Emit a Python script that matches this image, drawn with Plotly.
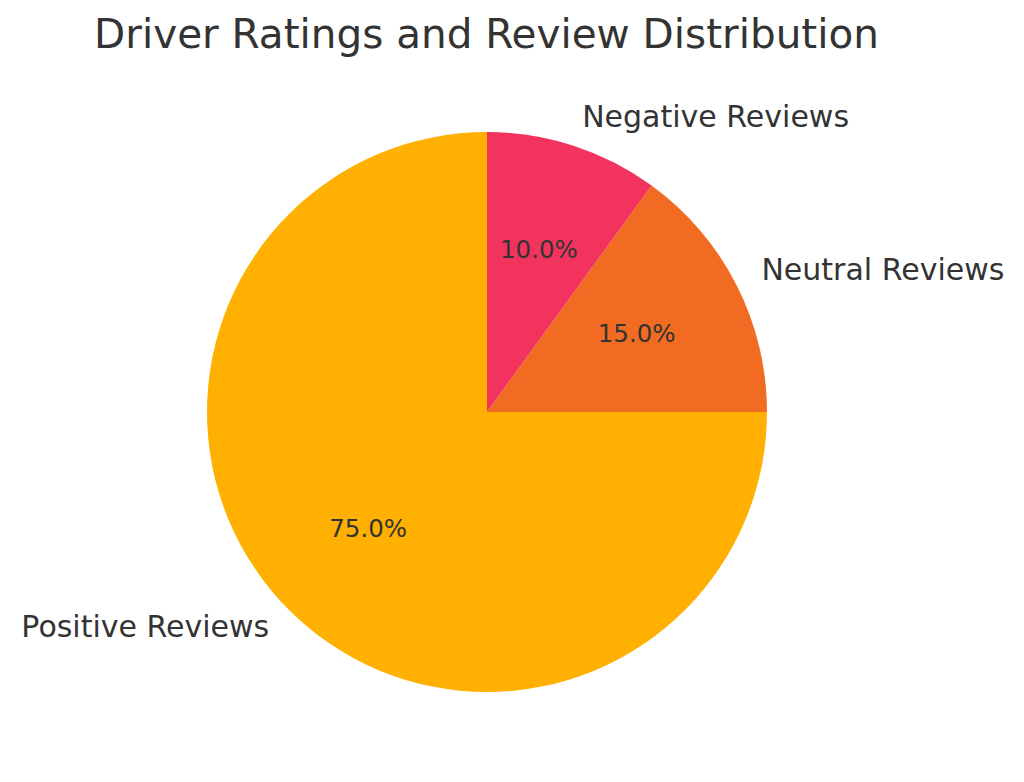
import math

import plotly.graph_objects as go

# review shares, drawn counter-clockwise from 12 o'clock
categories = ["Positive Reviews", "Neutral Reviews", "Negative Reviews"]
shares = [75, 15, 10]
colors = ["#FFB000", "#F26B22", "#F2335E"]

W, H = 1024, 782
label_r, pct_r = 1.1, 0.6
# the page body adds an 8px margin, so work in figure pixels;
# the polar area reaches out to the label ring so labels are not dropped
cx, cy = 479, 404
r = 280 * label_r
domain = dict(
    x=[(cx - r) / W, (cx + r) / W],
    y=[(H - cy - r) / H, (H - cy + r) / H],
)

total = sum(shares)
widths = [360 * s / total for s in shares]
mids = []
start = 0.0
for w in widths:
    mids.append(start + w / 2)
    start += w
percents = [f"{100 * s / total:.1f}%" for s in shares]
# labels left of the circle are right-aligned, the others left-aligned
sides = [
    "middle left" if math.cos(math.radians(90 + m)) < 0 else "middle right"
    for m in mids
]

fig = go.Figure()
fig.add_trace(
    go.Barpolar(
        r=[1] * len(shares),
        theta=mids,
        width=widths,
        marker=dict(color=colors, line=dict(width=0)),
        hovertext=[f"{c}: {p}" for c, p in zip(categories, percents)],
        hoverinfo="text",
        showlegend=False,
    )
)
fig.add_trace(
    go.Scatterpolar(
        r=[pct_r] * len(shares),
        theta=mids,
        mode="text",
        text=percents,
        textposition="middle center",
        textfont=dict(family="DejaVu Sans", size=24.5, color="#333333"),
        hoverinfo="skip",
        showlegend=False,
    )
)
fig.add_trace(
    go.Scatterpolar(
        r=[label_r] * len(shares),
        theta=mids,
        mode="text",
        text=categories,
        textposition=sides,
        textfont=dict(family="DejaVu Sans", size=30, color="#333333"),
        cliponaxis=False,
        hoverinfo="skip",
        showlegend=False,
    )
)

fig.update_layout(
    polar=dict(
        domain=domain,
        bgcolor="rgba(0,0,0,0)",
        bargap=0,
        hole=0,
        radialaxis=dict(
            range=[0, label_r],
            visible=False,
            showgrid=False,
        ),
        angularaxis=dict(
            rotation=90,
            direction="counterclockwise",
            visible=False,
            showgrid=False,
        ),
    ),
    title=dict(
        text="Driver Ratings and Review Distribution",
        x=478.5 / W,
        xanchor="center",
        y=1 - 26 / H,
        yanchor="middle",
        font=dict(family="DejaVu Sans", size=40.5, color="#333333"),
    ),
    width=W,
    height=H,
    margin=dict(l=0, r=0, t=0, b=0),
    paper_bgcolor="white",
    plot_bgcolor="white",
)

fig.write_html("out.html")
